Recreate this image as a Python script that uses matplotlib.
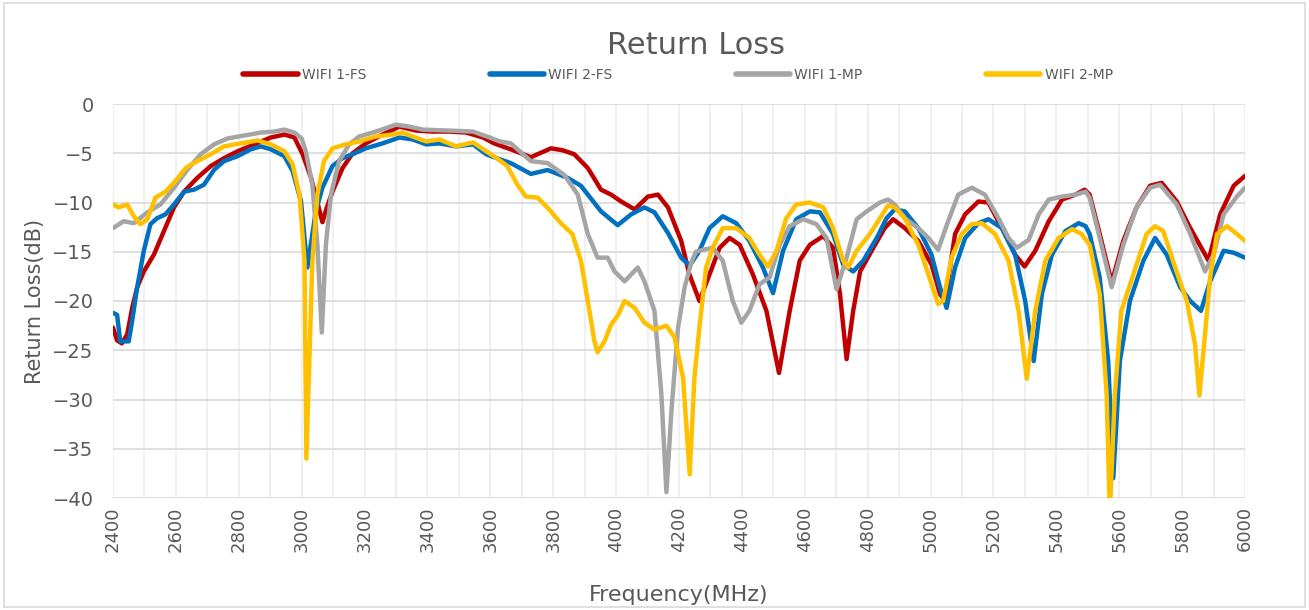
import numpy as np
import matplotlib
matplotlib.use("Agg")
import matplotlib.pyplot as plt
from matplotlib.patches import Rectangle

# WIFI 1-FS
f_fs1 = [2400, 2413, 2428, 2445, 2461, 2477, 2498, 2530, 2562, 2594, 2626, 2668, 2711, 2753,
         2796, 2849, 2902, 2945, 2977, 3003, 3030, 3050, 3066, 3080, 3098, 3130, 3162, 3204,
         3257, 3311, 3364, 3417, 3470, 3523, 3577, 3612, 3665, 3729, 3793, 3830, 3867, 3910,
         3952, 3984, 4016, 4059, 4101, 4133, 4165, 4207, 4233, 4265, 4297, 4329, 4361, 4393,
         4435, 4478, 4518, 4552, 4584, 4616, 4659, 4690, 4712, 4733, 4754, 4776, 4818, 4854,
         4881, 4918, 4961, 5003, 5030, 5046, 5078, 5110, 5152, 5184, 5227, 5269, 5299, 5333,
         5376, 5418, 5461, 5490, 5506, 5538, 5576, 5613, 5655, 5698, 5735, 5783, 5826, 5884,
         5921, 5964, 6000]
rl_fs1 = [-22.7, -24.0, -24.3, -23.4, -20.7, -18.6, -17.0, -15.3, -12.9, -10.5, -8.9, -7.5, -6.3, -5.5,
          -4.8, -4.1, -3.4, -3.1, -3.4, -5.1, -7.5, -10.0, -12.0, -10.5, -8.9, -6.5, -5.0, -4.0,
          -3.1, -2.3, -2.7, -2.8, -2.8, -2.9, -3.4, -4.0, -4.6, -5.4, -4.5, -4.7, -5.1, -6.5,
          -8.7, -9.2, -9.9, -10.7, -9.4, -9.2, -10.5, -13.9, -17.3, -20.0, -17.3, -14.6, -13.6, -14.3,
          -17.3, -21.0, -27.3, -21.0, -15.9, -14.3, -13.4, -14.6, -19.3, -25.9, -21.0, -17.0, -14.6, -12.6,
          -11.7, -12.6, -13.9, -16.3, -19.3, -20.0, -13.2, -11.2, -9.9, -10.0, -12.6, -15.3, -16.5, -14.9,
          -11.9, -9.7, -9.2, -8.7, -9.2, -13.2, -18.1, -13.9, -10.5, -8.3, -8.0, -9.9, -12.6, -15.9,
          -11.2, -8.3, -7.3]

# WIFI 2-FS
f_fs2 = [2400, 2413, 2423, 2450, 2461, 2477, 2498, 2519, 2540, 2567, 2594, 2626, 2657, 2689,
         2721, 2753, 2796, 2838, 2870, 2902, 2945, 2971, 2998, 3018, 3045, 3066, 3098, 3130,
         3162, 3204, 3257, 3311, 3353, 3396, 3438, 3491, 3545, 3587, 3620, 3665, 3729, 3782,
         3846, 3888, 3952, 4005, 4048, 4090, 4122, 4165, 4207, 4234, 4265, 4297, 4339, 4382,
         4424, 4467, 4499, 4531, 4573, 4616, 4648, 4690, 4722, 4754, 4786, 4829, 4860, 4886,
         4918, 4961, 5003, 5030, 5051, 5078, 5110, 5152, 5184, 5227, 5269, 5301, 5328, 5354,
         5386, 5429, 5471, 5493, 5506, 5538, 5565, 5581, 5602, 5634, 5677, 5714, 5751, 5794,
         5826, 5860, 5889, 5932, 5964, 6000]
rl_fs2 = [-21.2, -21.4, -24.1, -24.1, -22.0, -18.6, -14.9, -12.2, -11.6, -11.2, -10.2, -8.9, -8.7, -8.2,
          -6.7, -5.8, -5.3, -4.6, -4.3, -4.6, -5.3, -6.8, -9.9, -16.6, -10.9, -8.5, -6.3, -5.5,
          -5.1, -4.5, -4.0, -3.4, -3.6, -4.1, -4.0, -4.3, -4.1, -5.1, -5.5, -6.0, -7.1, -6.7,
          -7.5, -8.3, -10.9, -12.3, -11.2, -10.5, -11.0, -13.1, -15.6, -16.4, -14.9, -12.6, -11.4, -12.1,
          -13.9, -16.6, -19.2, -14.9, -11.7, -10.9, -11.0, -13.2, -16.3, -17.0, -15.9, -13.6, -11.6, -10.7,
          -10.9, -12.6, -15.3, -18.6, -20.7, -16.6, -13.6, -12.1, -11.7, -12.6, -15.3, -20.0, -26.1, -19.3,
          -15.3, -12.9, -12.1, -12.4, -13.2, -17.6, -26.1, -38.0, -26.1, -20.0, -15.9, -13.6, -15.3, -18.6,
          -20.0, -21.0, -18.0, -14.9, -15.1, -15.6]

# WIFI 1-MP
f_mp1 = [2400, 2434, 2466, 2509, 2551, 2594, 2636, 2679, 2721, 2764, 2817, 2870, 2913, 2945,
         2977, 3000, 3013, 3034, 3050, 3064, 3077, 3093, 3119, 3151, 3183, 3236, 3300, 3343,
         3385, 3470, 3545, 3598, 3630, 3665, 3729, 3782, 3835, 3878, 3910, 3941, 3973, 3995,
         4027, 4069, 4090, 4122, 4144, 4160, 4176, 4197, 4218, 4240, 4254, 4276, 4307, 4339,
         4371, 4398, 4424, 4456, 4488, 4520, 4552, 4595, 4637, 4669, 4701, 4733, 4765, 4797,
         4839, 4865, 4886, 4918, 4961, 4993, 5024, 5056, 5088, 5131, 5173, 5216, 5248, 5274,
         5312, 5344, 5376, 5418, 5461, 5493, 5506, 5538, 5576, 5613, 5655, 5698, 5730, 5783,
         5826, 5873, 5900, 5932, 5974, 6000]
rl_mp1 = [-12.6, -11.9, -12.1, -11.0, -10.2, -8.5, -6.7, -5.1, -4.1, -3.5, -3.2, -2.9, -2.8, -2.6,
          -2.9, -3.5, -4.8, -8.2, -14.3, -23.2, -14.3, -9.2, -5.8, -4.1, -3.3, -2.8, -2.1, -2.3,
          -2.6, -2.7, -2.8, -3.4, -3.8, -4.0, -5.8, -6.0, -7.2, -9.2, -13.2, -15.6, -15.6, -17.0,
          -18.0, -16.6, -18.0, -21.0, -29.5, -39.4, -31.1, -22.7, -18.6, -16.0, -15.0, -14.8, -14.6, -15.9,
          -20.0, -22.2, -21.0, -18.3, -17.6, -14.3, -12.4, -11.7, -12.2, -13.6, -18.8, -15.6, -11.7, -10.9,
          -10.0, -9.7, -10.2, -11.6, -12.6, -13.6, -14.8, -11.9, -9.2, -8.5, -9.2, -11.6, -13.6, -14.6,
          -13.8, -11.2, -9.7, -9.4, -9.2, -8.9, -9.5, -13.6, -18.6, -14.3, -10.5, -8.5, -8.2, -10.2,
          -13.2, -17.0, -15.3, -11.2, -9.4, -8.5]

# WIFI 2-MP
f_mp2 = [2400, 2418, 2445, 2466, 2487, 2509, 2535, 2567, 2599, 2631, 2668, 2711, 2753, 2806,
         2860, 2902, 2945, 2971, 2993, 3009, 3015, 3034, 3050, 3071, 3098, 3140, 3183, 3236,
         3289, 3321, 3353, 3396, 3438, 3491, 3545, 3587, 3620, 3654, 3686, 3713, 3750, 3787,
         3824, 3861, 3888, 3910, 3931, 3941, 3963, 3984, 4005, 4027, 4059, 4090, 4122, 4160,
         4186, 4213, 4234, 4249, 4265, 4286, 4307, 4339, 4382, 4424, 4456, 4483, 4510, 4541,
         4573, 4616, 4659, 4690, 4722, 4738, 4765, 4807, 4839, 4865, 4886, 4918, 4961, 4993,
         5024, 5040, 5067, 5099, 5131, 5163, 5205, 5248, 5280, 5306, 5333, 5365, 5407, 5450,
         5480, 5506, 5538, 5560, 5570, 5586, 5607, 5645, 5687, 5714, 5740, 5778, 5815, 5841,
         5855, 5870, 5889, 5911, 5943, 5974, 6000]
rl_mp2 = [-10.2, -10.5, -10.2, -11.4, -12.2, -11.7, -9.5, -8.9, -7.8, -6.5, -5.8, -5.1, -4.3, -4.0,
          -3.7, -4.1, -4.8, -6.1, -9.2, -15.9, -36.0, -16.0, -9.2, -5.8, -4.5, -4.1, -3.8, -3.3,
          -3.1, -2.9, -3.3, -3.8, -3.6, -4.3, -3.9, -4.8, -5.5, -6.3, -8.2, -9.4, -9.5, -10.7,
          -12.1, -13.2, -15.9, -20.0, -24.1, -25.2, -24.1, -22.4, -21.5, -20.0, -20.7, -22.2, -22.9, -22.5,
          -23.7, -27.8, -37.6, -27.8, -22.7, -16.6, -14.6, -12.6, -12.6, -13.6, -15.3, -16.5, -14.9, -11.6,
          -10.2, -10.0, -10.5, -12.6, -15.9, -16.6, -14.9, -13.2, -11.6, -10.3, -10.5, -11.6, -14.3, -17.3,
          -20.3, -20.0, -15.6, -13.2, -12.2, -12.1, -13.2, -15.9, -21.0, -27.9, -21.0, -15.9, -13.6, -12.7,
          -13.2, -14.3, -19.3, -29.5, -41.5, -29.5, -21.0, -17.3, -13.2, -12.4, -12.9, -16.6, -20.0, -24.4,
          -29.6, -24.4, -17.6, -13.2, -12.4, -13.2, -13.9]

series = [("WIFI 1-FS", f_fs1, rl_fs1, "#C00000"),
          ("WIFI 2-FS", f_fs2, rl_fs2, "#0070C0"),
          ("WIFI 1-MP", f_mp1, rl_mp1, "#A5A5A5"),
          ("WIFI 2-MP", f_mp2, rl_mp2, "#FFC000")]

fig = plt.figure(figsize=(13.09, 6.10), dpi=100)
ax = fig.add_axes([113/1309, 1-498/610, 1132/1309, 394/610])

for name, f, rl, c in series:
    ax.plot(f, rl, color=c, lw=3.2, label=name, solid_joinstyle="round", solid_capstyle="round")

ax.set_xlim(2400, 6000)
ax.set_ylim(-40, 0)
ax.set_xticks(np.arange(2400, 6001, 200))
ax.set_xticks(np.arange(2400, 6001, 100), minor=True)
ax.set_yticks(np.arange(-40, 1, 5))
ax.grid(axis="y", which="major", color="#D9D9D9", lw=1.2)
ax.grid(axis="x", which="both", color="#EDEDED", lw=1.2)
ax.set_axisbelow(True)
for s in ax.spines.values():
    s.set_visible(False)
ax.tick_params(length=0, which="both", colors="#595959")
ax.tick_params(axis="y", labelsize=14, pad=14)
ax.tick_params(axis="x", labelsize=13, rotation=90, pad=6)

ax.set_xlabel("Frequency(MHz)", fontsize=16, color="#595959", labelpad=24)
ax.set_ylabel("Return Loss(dB)", fontsize=15, color="#595959", labelpad=5)
fig.text(0.532, 0.925, "Return Loss", ha="center", va="center", fontsize=22, color="#595959")

leg = fig.legend(loc="center", bbox_to_anchor=(0.518, 0.877), ncol=4, frameon=False,
                 fontsize=10, handlelength=3.9, handletextpad=0.3, columnspacing=8.9)
for t in leg.get_texts():
    t.set_color("#595959")
for h in leg.legend_handles:
    h.set_linewidth(4)

fig.patches.append(Rectangle((0.003, 0.005), 0.994, 0.99, transform=fig.transFigure,
                             fill=False, edgecolor="#D9D9D9", lw=1.2))

fig.savefig("out.png", dpi=100)
